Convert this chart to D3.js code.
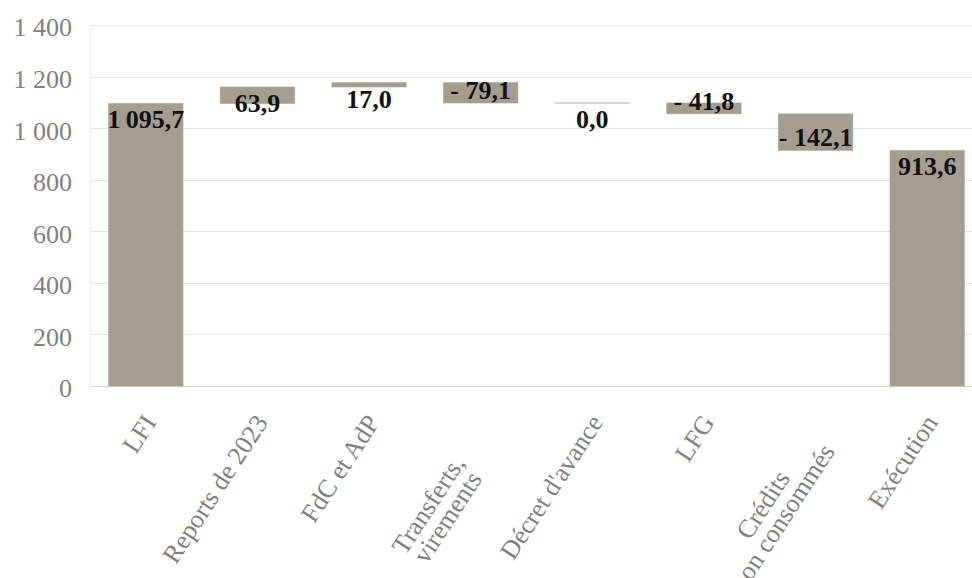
<!DOCTYPE html>
<html>
<head>
<meta charset="utf-8">
<script src="https://cdn.jsdelivr.net/npm/d3@7"></script>
<style>
  html, body { margin: 0; padding: 0; background: #ffffff; }
  svg { display: block; }
</style>
</head>
<body>
<svg id="chart" width="972" height="578"></svg>
<script>
// ---- data ----
const categoryLines = [
  ["LFI"],
  ["Reports de 2023"],
  ["FdC et AdP"],
  ["Transferts,", "virements"],
  ["Décret d'avance"],
  ["LFG"],
  ["Crédits", "non consommés"],
  ["Exécution"]
];
const values = [1095.7, 63.9, 17.0, -79.1, 0.0, -41.8, -142.1, 913.6];
const kinds = ["total", "delta", "delta", "delta", "delta", "delta", "delta", "total"];
const yTicks = [0, 200, 400, 600, 800, 1000, 1200, 1400];

// ---- layout ----
const W = 972, H = 578;
const plotLeft = 90, plotRight = 983, plotTop = 25, plotBottom = 386;
const barColor = "#a59d90";
const serif = "'Liberation Serif', 'Times New Roman', serif";

const svg = d3.select("#chart");

const x = d3.scaleBand()
  .domain(d3.range(values.length))
  .range([plotLeft, plotRight])
  .paddingInner(1 / 3)
  .paddingOuter(1 / 6);

const y = d3.scaleLinear().domain([0, 1400]).range([plotBottom, plotTop]);

// waterfall segments
let run = 0;
const segs = values.map((v, i) => {
  let lo, hi;
  if (kinds[i] === "total") { lo = 0; hi = v; run = v; }
  else { const s = run; run = run + v; lo = Math.min(s, run); hi = Math.max(s, run); }
  return { i, v, lo, hi, kind: kinds[i] };
});

// gridlines
svg.append("g").selectAll("line").data(yTicks).join("line")
  .attr("x1", plotLeft).attr("x2", W)
  .attr("y1", d => Math.round(y(d)) + 0.5).attr("y2", d => Math.round(y(d)) + 0.5)
  .attr("stroke", d => d === 0 ? "#d9d9d9" : "#e4e4e4")
  .attr("stroke-width", 1.2);

// faint left edge of plot area
svg.append("line")
  .attr("x1", plotLeft + 0.5).attr("x2", plotLeft + 0.5)
  .attr("y1", plotTop).attr("y2", plotBottom)
  .attr("stroke", "#f0f0f0").attr("stroke-width", 1);

// y axis labels
const fr = d3.formatLocale({ decimal: ",", thousands: "\u00a0", grouping: [3], currency: ["", ""] });
const tickFmt = fr.format(",.0f");
const yAxis = d3.axisLeft(y).tickValues(yTicks).tickFormat(tickFmt).tickSize(0).tickPadding(0);
const ga = svg.append("g").attr("transform", `translate(${72},0)`).call(yAxis);
ga.select(".domain").remove();
ga.selectAll("text")
  .attr("font-family", serif)
  .attr("font-size", 26)
  .attr("fill", "#808080")
  .attr("dy", "0.42em");

// bars
svg.append("g").selectAll("rect").data(segs.filter(d => d.hi > d.lo)).join("rect")
  .attr("x", d => x(d.i))
  .attr("width", x.bandwidth())
  .attr("y", d => y(d.hi))
  .attr("height", d => y(d.lo) - y(d.hi))
  .attr("fill", barColor)
  .attr("stroke", barColor)
  .attr("stroke-opacity", 0.55)
  .attr("stroke-width", 1);

// zero-height segments: faint outline line
svg.append("g").selectAll("line").data(segs.filter(d => d.hi === d.lo)).join("line")
  .attr("x1", d => x(d.i)).attr("x2", d => x(d.i) + x.bandwidth())
  .attr("y1", d => y(d.hi)).attr("y2", d => y(d.hi))
  .attr("stroke", "#cbc6be")
  .attr("stroke-width", 1.5);

// value labels
const valFmt = d3.formatLocale({ decimal: ",", thousands: "\u2009", grouping: [3], currency: ["", ""] }).format(",.1f");
const labelText = v => v < 0 ? "- " + valFmt(-v) : valFmt(v);
svg.append("g").selectAll("text").data(segs).join("text")
  .attr("x", d => x(d.i) + x.bandwidth() / 2)
  .attr("y", d => d.v < 0 ? y(d.lo) - 4 : y(d.hi) + 25)
  .attr("text-anchor", "middle")
  .attr("font-family", serif)
  .attr("font-weight", "bold")
  .attr("font-size", 26)
  .attr("fill", "#111")
  .text(d => labelText(d.v));

// category labels (rotated, multi-line centered in a wrap box)
const angle = -57;
const wrapWidth = 208;
const lineH = 23;
const catG = svg.append("g");
categoryLines.forEach((lines, i) => {
  const cx = x(i) + x.bandwidth() / 2 - 3;
  const cy = plotBottom + 27;
  const g = catG.append("g").attr("transform", `translate(${cx},${cy}) rotate(${angle})`);
  const texts = lines.map((ln, k) => g.append("text")
    .attr("font-family", serif)
    .attr("font-size", 26)
    .attr("fill", "#808080")
    .attr("text-anchor", "end")
    .attr("dy", "0.66em")
    .attr("y", k * lineH)
    .text(ln));
  if (lines.length > 1) {
    const widths = texts.map(t => t.node().getComputedTextLength());
    const box = Math.max(wrapWidth, d3.max(widths));
    texts.forEach((t, k) => t.attr("x", -(box - widths[k]) / 2));
  } else {
    texts[0].attr("x", 0);
  }
});
</script>
</body>
</html>
